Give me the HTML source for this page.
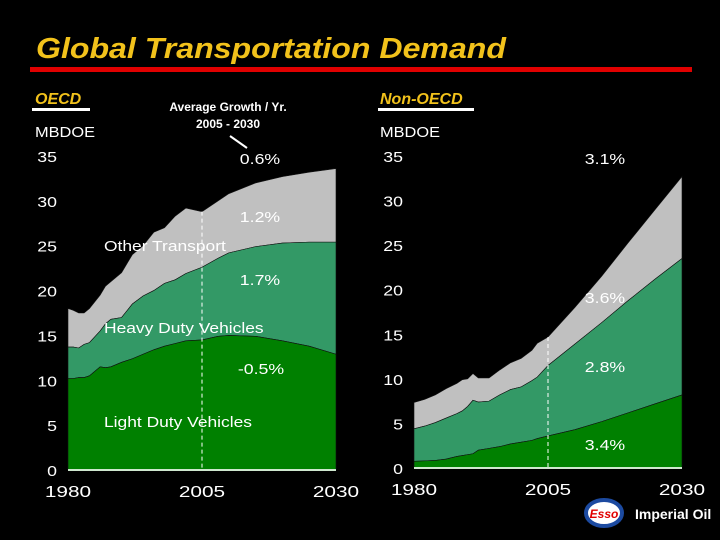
<!DOCTYPE html>
<html><head><meta charset="utf-8"><style>
body{margin:0;background:#000;width:720px;height:540px;overflow:hidden;font-family:"Liberation Sans",sans-serif}
svg{display:block}
</style></head><body>
<svg id="s" width="720" height="540">
<text x="36" y="58" fill="#f2c21b" font-size="29" font-weight="bold" font-style="italic" textLength="470" lengthAdjust="spacingAndGlyphs">Global Transportation Demand</text>
<rect x="30" y="67" width="662" height="5" fill="#e00000"/>
<text x="35" y="104" fill="#f2c21b" font-size="16" font-weight="bold" font-style="italic">OECD</text>
<rect x="32" y="108" width="58" height="3" fill="#fff"/>
<text x="380" y="104" fill="#f2c21b" font-size="16" font-weight="bold" font-style="italic">Non-OECD</text>
<rect x="378" y="108" width="96" height="3" fill="#fff"/>
<text x="228" y="111" fill="#fff" font-size="12" font-weight="bold" text-anchor="middle">Average Growth / Yr.</text>
<text x="228" y="128" fill="#fff" font-size="12" font-weight="bold" text-anchor="middle">2005 - 2030</text>
<line x1="230" y1="136" x2="247" y2="148" stroke="#fff" stroke-width="2"/>
<text x="35" y="137" fill="#fff" font-size="15" textLength="60" lengthAdjust="spacingAndGlyphs">MBDOE</text>
<text x="380" y="137" fill="#fff" font-size="15" textLength="60" lengthAdjust="spacingAndGlyphs">MBDOE</text>
<g id="left"></g><g id="right"></g>
<g>
<ellipse cx="604" cy="513" rx="18" ry="13" fill="#fff" stroke="#1c4aa0" stroke-width="4"/>
<text x="604" y="518" fill="#e00000" font-size="12" font-weight="bold" font-style="italic" text-anchor="middle">Esso</text>
<text x="635" y="519" fill="#fff" font-size="14" font-weight="bold">Imperial Oil</text>
</g>
</svg>
<script>
const leftYears=[1980,1981,1982,1983,1984,1986,1987,1988,1990,1992,1994,1996,1998,2000,2002,2005,2008,2010,2015,2020,2025,2030];
const leftLDV=[10.2,10.2,10.3,10.3,10.5,11.5,11.4,11.5,12,12.4,12.9,13.4,13.8,14.1,14.4,14.5,14.9,15,14.9,14.4,13.8,12.9];
const leftHDV=[13.7,13.7,13.6,14,14.2,15.5,16.3,16.8,17,18.5,19.4,20,20.8,21.2,21.9,22.6,23.6,24.2,24.9,25.3,25.4,25.4];
const leftTotal=[18,17.8,17.5,17.5,18,19.5,20.5,21,22,24,25,26.5,27,28.3,29.2,28.8,30,30.8,32,32.7,33.2,33.6];
const rightYears=[1980,1982,1984,1986,1988,1989,1990,1991,1992,1994,1996,1998,2000,2002,2003,2005,2010,2015,2020,2025,2030];
const rightLDV=[0.75,0.8,0.85,1.0,1.3,1.4,1.5,1.6,2.0,2.2,2.4,2.7,2.9,3.1,3.3,3.6,4.3,5.2,6.2,7.2,8.2];
const rightHDV=[4.4,4.7,5.1,5.6,6.1,6.4,6.9,7.6,7.4,7.5,8.2,8.8,9.1,9.8,10.2,11.5,13.9,16.3,18.8,21.2,23.5];
const rightTotal=[7.35,7.7,8.2,8.9,9.5,9.9,10,10.6,10.1,10.1,11,11.8,12.3,13.2,14,14.7,18,21.5,25.3,29,32.7];
const yTicks=[0,5,10,15,20,25,30,35];
const xTicks=[1980,2005,2030];
const leftRates=["0.6%","1.2%","1.7%","-0.5%"];
const rightRates=["3.1%","3.6%","2.8%","3.4%"];
const NS="http://www.w3.org/2000/svg";
function mk(p,t,a){const e=document.createElementNS(NS,t);for(const k in a)e.setAttribute(k,a[k]);p.appendChild(e);return e;}
function stretch(t,f){const w=t.getComputedTextLength();t.setAttribute("textLength",w*f);t.setAttribute("lengthAdjust","spacingAndGlyphs");}
function draw(gid,years,ldv,hdv,tot,x0,x1,y0,y35,tickX,side){
 const g=document.getElementById(gid);
 const X=y=>x0+(y-1980)/(50)*(x1-x0);
 const Y=v=>y0-v/35*(y0-y35);
 function area(top,bot,fill,name){
  let d="M"+years.map((yr,i)=>X(yr)+","+Y(top[i])).join("L");
  for(let i=years.length-1;i>=0;i--)d+="L"+X(years[i])+","+Y(bot?bot[i]:0);
  const p=mk(g,"path",{d:d+"Z",fill:fill,stroke:"#111","stroke-width":0.6});
  
  
 }
 area(tot,hdv,"#c0c0c0",side+"-other-transport-area");
 area(hdv,ldv,"#339966",side+"-heavy-duty-area");
 area(ldv,null,"#008000",side+"-light-duty-area");
 const bl=mk(g,"line",{x1:x0,x2:x1,y1:y0,y2:y0,stroke:"#cfe8cf","stroke-width":2});
 
 
 const dl=mk(g,"line",{x1:X(2005),x2:X(2005),y1:Y(tot[years.indexOf(2005)]),y2:y0,stroke:"#fff","stroke-width":1,"stroke-dasharray":"4,3"});
 
 
 yTicks.forEach(v=>{const t=mk(g,"text",{x:tickX,y:Y(v)+6,fill:"#fff","font-size":15,"text-anchor":"end"});t.textContent=v;
  
  
  stretch(t,1.18);});
 xTicks.forEach(v=>{const t=mk(g,"text",{x:X(v),y:y0+27,fill:"#fff","font-size":16,"text-anchor":"middle"});t.textContent=v;
  
  
  stretch(t,1.3);});
}
draw("left",leftYears,leftLDV,leftHDV,leftTotal,68,336,470,156,57,"left");
draw("right",rightYears,rightLDV,rightHDV,rightTotal,414,682,468,156,403,"right");
const s=document.getElementById("s");
function lab(x,y,txt,name,anchor,f){const t=mk(s,"text",{x:x,y:y,fill:"#fff","font-size":15,"text-anchor":anchor||"middle"});t.textContent=txt;
 
 
 stretch(t,f);}
lab(260,164,leftRates[0],"left-rate-other","middle",1.18);
lab(260,222,leftRates[1],"left-rate-other-2","middle",1.18);
lab(260,285,leftRates[2],"left-rate-heavy","middle",1.18);
lab(261,374,leftRates[3],"left-rate-light","middle",1.18);
lab(605,164,rightRates[0],"right-rate-total","middle",1.18);
lab(605,303,rightRates[1],"right-rate-other","middle",1.18);
lab(605,372,rightRates[2],"right-rate-heavy","middle",1.18);
lab(605,450,rightRates[3],"right-rate-light","middle",1.18);
lab(104,251,"Other Transport","other-transport-label","start",1.16);
lab(104,333,"Heavy Duty Vehicles","heavy-duty-label","start",1.16);
lab(104,427,"Light Duty Vehicles","light-duty-label","start",1.16);
</script>
</body></html>
